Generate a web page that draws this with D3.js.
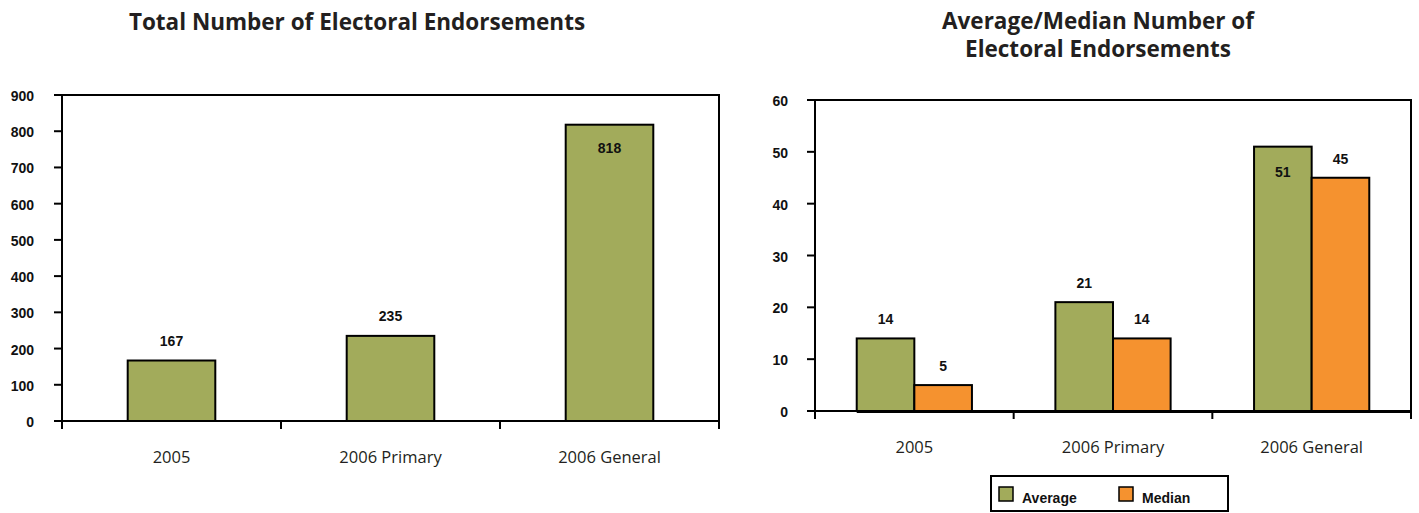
<!DOCTYPE html>
<html>
<head>
<meta charset="utf-8">
<script src="https://cdn.jsdelivr.net/npm/d3@7"></script>
<style>
  body { margin: 0; background: #fff; }
  svg text { fill: #111; }
  .title { font-family: "Open Sans", sans-serif; font-weight: 700; font-size: 22.5px; fill: #231f20; }
  .tick-lbl { font-family: "Liberation Sans", Arial, sans-serif; font-weight: bold; font-size: 14px; }
  .cat-lbl { font-family: "Open Sans", sans-serif; font-size: 16.5px; fill: #231f20; }
  .val-lbl { font-family: "Liberation Sans", Arial, sans-serif; font-weight: bold; font-size: 14px; }
</style>
</head>
<body>
<div id="chart"></div>
<script>
var categories = ["2005", "2006 Primary", "2006 General"];
var totals = [167, 235, 818];
var averages = [14, 21, 51];
var medians = [5, 14, 45];
var leftTicks = [0, 100, 200, 300, 400, 500, 600, 700, 800, 900];
var rightTicks = [0, 10, 20, 30, 40, 50, 60];
var seriesNames = ["Average", "Median"];

var green = "#a2ab5b", orange = "#f5922f";

var svg = d3.select("#chart").append("svg")
    .attr("width", 1419)
    .attr("height", 513);

// ---------- left chart: totals ----------
var L = { left: 62, right: 719, top: 95, bottom: 421 };

var xL = d3.scaleBand().domain(categories).range([L.left, L.right]);
var yL = d3.scaleLinear().domain([0, 900]).range([L.bottom, L.top]);

svg.append("text").attr("class", "title")
    .attr("x", 357).attr("y", 30).attr("text-anchor", "middle")
    .text("Total Number of Electoral Endorsements");

var gL = svg.append("g");

gL.append("rect")
    .attr("x", L.left).attr("y", L.top)
    .attr("width", L.right - L.left).attr("height", L.bottom - L.top)
    .attr("fill", "none").attr("stroke", "#000").attr("stroke-width", 2);

// y ticks
gL.selectAll(".ytick").data(leftTicks).enter().append("line")
    .attr("x1", L.left - 8).attr("x2", L.left)
    .attr("y1", function (d) { return yL(d); })
    .attr("y2", function (d) { return yL(d); })
    .attr("stroke", "#000").attr("stroke-width", 2);

gL.selectAll(".ylbl").data(leftTicks).enter().append("text")
    .attr("class", "tick-lbl")
    .attr("x", L.left - 28)
    .attr("y", function (d) { return yL(d) + 6; })
    .attr("text-anchor", "end")
    .text(function (d) { return d; });

// x ticks at band edges
var edgesL = categories.map(function (c) { return xL(c); }).concat([L.right]);
gL.selectAll(".xtick").data(edgesL).enter().append("line")
    .attr("x1", function (d) { return d; }).attr("x2", function (d) { return d; })
    .attr("y1", L.bottom).attr("y2", L.bottom + 8)
    .attr("stroke", "#000").attr("stroke-width", 2);

gL.selectAll(".bar").data(totals).enter().append("rect")
    .attr("x", function (d, i) { return xL(categories[i]) + xL.bandwidth() * 0.3; })
    .attr("width", xL.bandwidth() * 0.4)
    .attr("y", function (d) { return yL(d); })
    .attr("height", function (d) { return L.bottom - yL(d); })
    .attr("fill", green).attr("stroke", "#000").attr("stroke-width", 2);

gL.selectAll(".val").data(totals).enter().append("text")
    .attr("class", "val-lbl")
    .attr("x", function (d, i) { return xL(categories[i]) + xL.bandwidth() / 2; })
    .attr("y", function (d) { return d / 900 > 0.8 ? yL(d) + 28 : yL(d) - 15; })
    .attr("text-anchor", "middle")
    .text(function (d) { return d; });

gL.selectAll(".cat").data(categories).enter().append("text")
    .attr("class", "cat-lbl")
    .attr("x", function (d) { return xL(d) + xL.bandwidth() / 2; })
    .attr("y", 463)
    .attr("text-anchor", "middle")
    .text(function (d) { return d; });

// ---------- right chart: average / median ----------
var R = { left: 815, right: 1411, top: 100, bottom: 411 };

var xR = d3.scaleBand().domain(categories).range([R.left, R.right]);
var x1 = d3.scaleBand().domain(seriesNames).range([xR.bandwidth() * 0.21, xR.bandwidth() * 0.79]);
var yR = d3.scaleLinear().domain([0, 60]).range([R.bottom, R.top]);
var color = d3.scaleOrdinal().domain(seriesNames).range([green, orange]);

var titleR = svg.append("text").attr("class", "title")
    .attr("x", 1098).attr("text-anchor", "middle");
titleR.append("tspan").attr("x", 1098).attr("y", 29).text("Average/Median Number of");
titleR.append("tspan").attr("x", 1098).attr("y", 57).text("Electoral Endorsements");

var gR = svg.append("g");

gR.append("rect")
    .attr("x", R.left).attr("y", R.top)
    .attr("width", R.right - R.left).attr("height", R.bottom - R.top)
    .attr("fill", "none").attr("stroke", "#000").attr("stroke-width", 2);

gR.selectAll(".ytick").data(rightTicks).enter().append("line")
    .attr("x1", R.left - 8).attr("x2", R.left)
    .attr("y1", function (d) { return yR(d); })
    .attr("y2", function (d) { return yR(d); })
    .attr("stroke", "#000").attr("stroke-width", 2);

gR.selectAll(".ylbl").data(rightTicks).enter().append("text")
    .attr("class", "tick-lbl")
    .attr("x", R.left - 27)
    .attr("y", function (d) { return yR(d) + 6; })
    .attr("text-anchor", "end")
    .text(function (d) { return d; });

var edgesR = categories.map(function (c) { return xR(c); }).concat([R.right]);
gR.selectAll(".xtick").data(edgesR).enter().append("line")
    .attr("x1", function (d) { return d; }).attr("x2", function (d) { return d; })
    .attr("y1", R.bottom).attr("y2", R.bottom + 8)
    .attr("stroke", "#000").attr("stroke-width", 2);

var rows = categories.map(function (c, i) {
    return { cat: c, values: [
        { key: "Average", value: averages[i] },
        { key: "Median", value: medians[i] }
    ] };
});

var groups = gR.selectAll(".grp").data(rows).enter().append("g")
    .attr("transform", function (d) { return "translate(" + xR(d.cat) + ",0)"; });

groups.selectAll("rect").data(function (d) { return d.values; }).enter().append("rect")
    .attr("x", function (d) { return x1(d.key); })
    .attr("width", x1.bandwidth())
    .attr("y", function (d) { return yR(d.value); })
    .attr("height", function (d) { return R.bottom - yR(d.value); })
    .attr("fill", function (d) { return color(d.key); })
    .attr("stroke", "#000").attr("stroke-width", 2);

groups.selectAll("text").data(function (d) { return d.values; }).enter().append("text")
    .attr("class", "val-lbl")
    .attr("x", function (d) { return x1(d.key) + x1.bandwidth() / 2; })
    .attr("y", function (d) { return d.value / 60 > 0.8 ? yR(d.value) + 30 : yR(d.value) - 14; })
    .attr("text-anchor", "middle")
    .text(function (d) { return d.value; });

// dark baseline under bars
gR.append("line")
    .attr("x1", xR(categories[0]) + x1.range()[0]).attr("x2", R.right)
    .attr("y1", R.bottom + 1).attr("y2", R.bottom + 1)
    .attr("stroke", "#000").attr("stroke-width", 2);

gR.selectAll(".cat").data(categories).enter().append("text")
    .attr("class", "cat-lbl")
    .attr("x", function (d) { return xR(d) + xR.bandwidth() / 2; })
    .attr("y", 453)
    .attr("text-anchor", "middle")
    .text(function (d) { return d; });

// legend
var lg = svg.append("g").attr("transform", "translate(991,476)");
lg.append("rect").attr("width", 237).attr("height", 35)
    .attr("fill", "#fff").attr("stroke", "#000").attr("stroke-width", 2);
var items = lg.selectAll(".item").data(seriesNames).enter().append("g")
    .attr("transform", function (d, i) { return "translate(" + (8 + i * 120) + ",11)"; });
items.append("rect").attr("width", 14).attr("height", 14)
    .attr("fill", function (d) { return color(d); })
    .attr("stroke", "#000").attr("stroke-width", 1.5);
items.append("text").attr("class", "val-lbl")
    .attr("x", 23).attr("y", 16)
    .text(function (d) { return d; });
</script>
</body>
</html>
